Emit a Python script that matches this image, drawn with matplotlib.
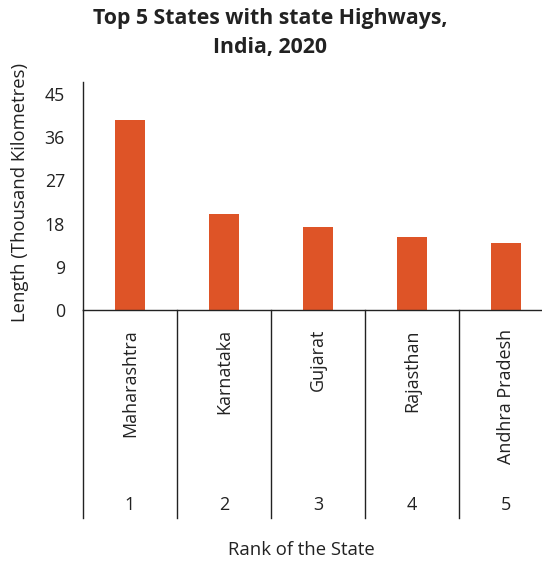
import matplotlib
matplotlib.use("Agg")
import matplotlib.pyplot as plt
import matplotlib.transforms as mtransforms

states = ["Maharashtra", "Karnataka", "Gujarat", "Rajasthan", "Andhra Pradesh"]
ranks = ["1", "2", "3", "4", "5"]
lengths = [39.6, 20.0, 17.3, 15.2, 14.0]
yticks = [0, 9, 18, 27, 36, 45]

plt.rcParams['font.family'] = ['Open Sans', 'DejaVu Sans']

fig = plt.figure(figsize=(5.42, 5.63), dpi=100)
ax = fig.add_axes([83/542, 1-310/563, (553-83)/542, (310-82)/563])

x = list(range(len(states)))
ax.bar(x, lengths, width=0.32, color="#DE5427", zorder=2)
ax.set_xlim(-0.5, len(states) - 0.5)
ax.set_ylim(0, 47.5)
ax.set_yticks(yticks)
ax.set_yticklabels([str(t) for t in yticks], fontsize=12.8, color="#222222")
ax.tick_params(axis='y', length=0, pad=13)
ax.set_xticks([])
for s in ["top", "right"]:
    ax.spines[s].set_visible(False)
ax.spines["left"].set_color("#222222")
ax.spines["bottom"].set_color("#222222")
ax.spines["left"].set_linewidth(1.0)
ax.spines["bottom"].set_linewidth(1.0)

trans = mtransforms.blended_transform_factory(ax.transData, ax.transAxes)
depth = -(518-310)/228
for b in [i - 0.5 for i in range(len(states) + 1)]:
    ax.plot([b, b], [0, depth], transform=trans, color="#222222", lw=1.0, clip_on=False)
for i, (s, r) in enumerate(zip(states, ranks)):
    ax.text(i, -(329-310)/228, s, transform=trans, rotation=90, ha="center", va="top",
            fontsize=13, color="#222222")
    ax.text(i, -(505-310)/228, r, transform=trans, ha="center", va="center",
            fontsize=13, color="#222222")

fig.text(301/542, 1-550/563, "Rank of the State", ha="center", va="center", fontsize=13.3, color="#222222")
fig.text(20/542, 1-192/563, "Length (Thousand Kilometres)", rotation=90, ha="center", va="center",
         fontsize=13.3, color="#222222")
fig.text(270/542, 1-33/563, "Top 5 States with state Highways,\nIndia, 2020", ha="center", va="center",
         fontsize=15.3, fontweight="bold", color="#222222", linespacing=1.5)

fig.savefig("out.png", dpi=100)
